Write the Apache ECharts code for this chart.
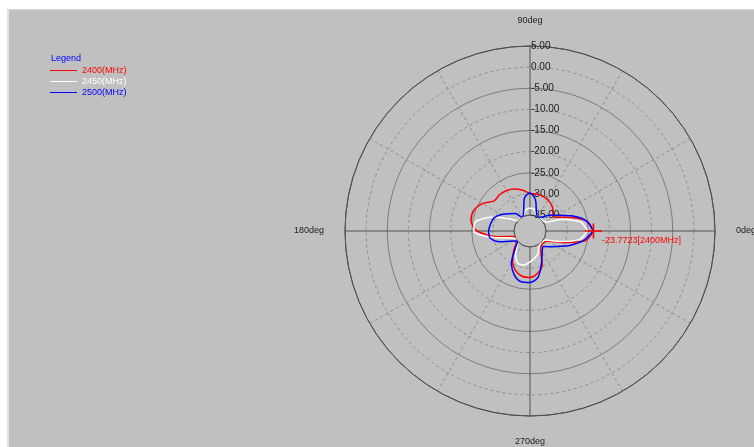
<!DOCTYPE html>
<html>
<head>
<meta charset="utf-8">
<script src="https://cdn.jsdelivr.net/npm/echarts@6/dist/echarts.min.js"></script>
<style>
  body { margin: 0; background: #fff; }
  #panel {
    position: absolute; left: 7px; top: 9px; width: 747px; height: 438px;
    background: #c0c0c0; border-top: 1px solid #d8d4c8; border-left: 2px solid #e4e2da;
  }
  #main { position: absolute; left: 0; top: 0; width: 754px; height: 447px; }
</style>
</head>
<body>
<div id="panel"></div>
<div id="main"></div>
<script>
// angles in degrees, 0deg to the right, counter clockwise
const angles = [0, 10, 20, 30, 40, 50, 60, 70, 80, 90, 100, 110, 120, 130, 140, 150, 160, 170,
  180, 190, 200, 210, 220, 230, 240, 250, 260, 270, 280, 290, 300, 310, 320, 330, 340, 350];

const gain2400 = [-23.8, -25.2, -29.3, -32.2, -31.6, -30.8, -30.3, -30.0, -29.9, -29.9, -29.0, -28.2,
  -27.7, -27.6, -27.7, -25.8, -24.6, -24.6, -26.3, -31.0, -35, -35, -34.5, -32.8,
  -30.5, -28.8, -27.9, -27.8, -28.6, -30.3, -33.8, -34.5, -34.5, -34.0, -30.8, -25.5];

const gain2450 = [-25.2, -26.6, -30.8, -34.5, -35, -35, -35, -34.5, -33.5, -33.4, -33.6, -34.5,
  -35, -35, -35, -33.0, -29.3, -25.8, -25.5, -30.0, -34.0, -35, -35, -34.0,
  -32.0, -30.6, -30.6, -31.5, -32.3, -33.2, -34.5, -35, -35, -34.5, -31.5, -27.0];

const gain2500 = [-23.8, -25.2, -28.3, -31.3, -33.0, -34.5, -35, -34.3, -31.3, -29.8, -31.0, -34.3,
  -35, -33.4, -32.4, -31.0, -29.7, -29.3, -29.0, -29.2, -31.3, -34.0, -35, -33.3,
  -30.0, -27.8, -26.6, -26.6, -27.7, -30.8, -33.0, -34.0, -33.0, -31.5, -28.8, -25.9];

const seriesNames = ['2400(MHz)', '2450(MHz)', '2500(MHz)'];
const seriesColors = ['#ff0000', '#ffffff', '#0000ff'];
const markerValue = -23.7723;
const markerAngle = 0;

const FONT = 'Liberation Sans, Arial, sans-serif';
const FS = 9;
const center = [530, 231];
const radius = [16, 185];

// closed curve: [radius, angle] pairs
function toPairs(values) {
  const pts = values.map((v, i) => [v, angles[i]]);
  pts.push([values[0], 360]);
  return pts;
}

const chart = echarts.init(document.getElementById('main'));

const series = seriesNames.map((name, i) => ({
  name: name,
  type: 'line',
  coordinateSystem: 'polar',
  polarIndex: 0,
  data: toPairs([gain2400, gain2450, gain2500][i]),
  symbol: 'none',
  smooth: 0.3,
  lineStyle: { color: seriesColors[i], width: 1.5 },
  itemStyle: { color: seriesColors[i] },
  z: 5 + i
}));

// red cross marker on the 2400 curve at 0deg
series.push({
  name: 'marker',
  type: 'scatter',
  coordinateSystem: 'polar',
  polarIndex: 0,
  silent: true,
  z: 20,
  data: [[markerValue, markerAngle]],
  symbol: 'path://M0,6.7H17V8.3H0ZM7.7,0H9.3V15H7.7Z',
  symbolSize: [17, 15],
  symbolKeepAspect: false,
  itemStyle: { color: '#ff0000', opacity: 1 },
  label: {
    show: true,
    position: [17, 13],
    align: 'left',
    verticalAlign: 'top',
    formatter: markerValue.toFixed(4) + '[2400MHz]',
    color: '#ff0000',
    fontFamily: FONT,
    fontSize: FS
  }
});

const option = {
  animation: false,
  backgroundColor: 'transparent',
  title: {
    text: 'Legend',
    left: 51,
    top: 54,
    padding: 0,
    textStyle: { color: '#0000ff', fontFamily: FONT, fontSize: FS, fontWeight: 'normal' }
  },
  legend: {
    orient: 'vertical',
    left: 50,
    top: 65,
    padding: 0,
    itemGap: 0,
    itemWidth: 27,
    itemHeight: 1,
    icon: 'rect',
    selectedMode: false,
    itemStyle: { borderWidth: 0 },
    textStyle: { fontFamily: FONT, fontSize: FS, lineHeight: 11, padding: 0 },
    data: seriesNames.map((n, i) => ({
      name: n,
      itemStyle: { color: seriesColors[i], borderWidth: 0 },
      textStyle: { color: seriesColors[i] }
    }))
  },
  polar: [
    { center: center, radius: radius },
    { center: center, radius: radius },
    { center: center, radius: radius }
  ],
  angleAxis: [
    {
      // dashed spokes every 30deg
      polarIndex: 0, startAngle: 0, clockwise: false, min: 0, max: 360, interval: 30,
      axisLine: { show: false }, axisTick: { show: false }, axisLabel: { show: false },
      splitLine: { show: true, lineStyle: { type: [3, 3], width: 1, color: ['transparent', '#8c8c8c', '#8c8c8c'] } }
    },
    {
      // solid cross + outer circle + deg labels
      polarIndex: 1, startAngle: 0, clockwise: false, min: 0, max: 360, interval: 90,
      axisLine: { show: true, lineStyle: { color: '#505050', width: 1 } },
      axisTick: { show: false },
      axisLabel: { show: true, margin: 21, formatter: '{value}deg', color: '#202020', fontFamily: FONT, fontSize: FS },
      splitLine: { show: true, lineStyle: { color: '#505050', width: 1 } }
    },
    {
      polarIndex: 2, startAngle: 90, min: 0, max: 360,
      axisLine: { show: false }, axisTick: { show: false }, axisLabel: { show: false }, splitLine: { show: false }
    }
  ],
  radiusAxis: [
    {
      polarIndex: 0, min: -35, max: 5, interval: 5,
      axisLine: { show: false }, axisTick: { show: false }, axisLabel: { show: false },
      splitLine: { show: true, lineStyle: { type: [3, 3], width: 1, color: ['transparent', '#8c8c8c'] } }
    },
    {
      polarIndex: 1, min: 0, max: 4, interval: 1,
      axisLine: { show: false }, axisTick: { show: false }, axisLabel: { show: false },
      splitLine: { show: true, lineStyle: { width: 1, color: ['#7c7c7c', '#7c7c7c', '#7c7c7c', '#7c7c7c', '#505050'] } }
    },
    {
      // dB labels along the 90deg line
      polarIndex: 2, min: -35, max: 5, interval: 5,
      axisLine: { show: false }, axisTick: { show: false }, splitLine: { show: false },
      axisLabel: {
        show: true, margin: -1, align: 'left', color: '#202020', fontFamily: FONT, fontSize: FS + 1,
        formatter: v => v.toFixed(2)
      }
    }
  ],
  series: series
};

chart.setOption(option);
</script>
</body>
</html>
